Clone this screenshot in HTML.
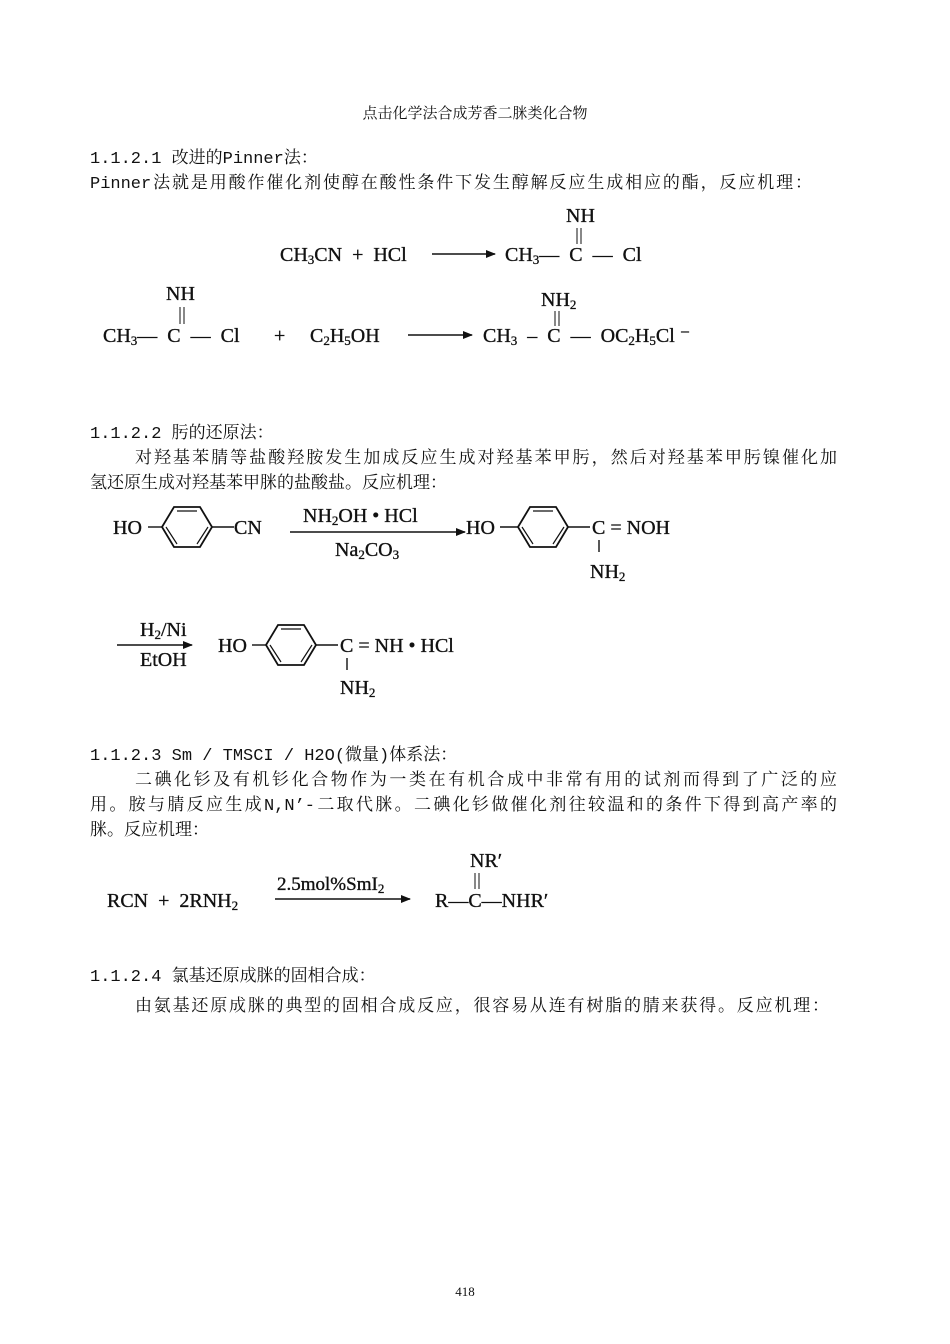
<!DOCTYPE html>
<html><head><meta charset="utf-8"><style>
body{margin:0;background:#fff;}
#p{position:relative;width:950px;height:1344px;overflow:hidden;font-family:"Liberation Mono","Noto Serif CJK SC",serif;font-size:17px;color:#111;}
.l{position:absolute;left:90px;white-space:nowrap;line-height:20px;}
.j{width:745px;text-align:justify;text-align-last:justify;}
svg{position:absolute;left:0;top:0;}
svg text{font-family:"Liberation Serif",serif;fill:#111;white-space:pre;stroke:#111;stroke-width:0.35;}
</style></head><body><div id="p">
<div class="l" style="left:0;width:950px;text-align:center;top:105px;font-size:15px">点击化学法合成芳香二脒类化合物</div>
<div class="l" style="top:150px">1.1.2.1 改进的Pinner法：</div>
<div class="l j" style="top:175px;width:722px">Pinner法就是用酸作催化剂使醇在酸性条件下发生醇解反应生成相应的酯，反应机理：</div>
<div class="l" style="top:425px">1.1.2.2 肟的还原法：</div>
<div class="l j" style="top:450px;left:135px;width:702px">对羟基苯腈等盐酸羟胺发生加成反应生成对羟基苯甲肟，然后对羟基苯甲肟镍催化加</div>
<div class="l" style="top:475px">氢还原生成对羟基苯甲脒的盐酸盐。反应机理：</div>
<div class="l" style="top:747px">1.1.2.3 Sm / TMSCI / H2O(微量)体系法：</div>
<div class="l j" style="top:772px;left:135px;width:702px">二碘化钐及有机钐化合物作为一类在有机合成中非常有用的试剂而得到了广泛的应</div>
<div class="l j" style="top:797px;width:747px">用。胺与腈反应生成N,N’-二取代脒。二碘化钐做催化剂往较温和的条件下得到高产率的</div>
<div class="l" style="top:822px">脒。反应机理：</div>
<div class="l" style="top:968px">1.1.2.4 氯基还原成脒的固相合成：</div>
<div class="l j" style="top:998px;left:135px;width:694px">由氨基还原成脒的典型的固相合成反应，很容易从连有树脂的腈来获得。反应机理：</div>
<div class="l" style="left:0;width:930px;text-align:center;top:1282px;font-size:13px;font-family:'Liberation Serif',serif">418</div>
<svg width="950" height="1344" viewBox="0 0 950 1344">
<defs><marker id="a" markerWidth="10" markerHeight="8" refX="9" refY="4" orient="auto" markerUnits="userSpaceOnUse"><path d="M0,0L10,4L0,8z" fill="#111"/></marker></defs>
<g font-size="20">
<!-- R1 -->
<text x="280" y="261">CH<tspan font-size="13" dy="3">3</tspan><tspan dy="-3">CN  +  HCl</tspan></text>
<line x1="432" y1="254" x2="495" y2="254" stroke="#111" stroke-width="1.6" marker-end="url(#a)"/>
<text x="505" y="261">CH<tspan font-size="13" dy="3">3</tspan><tspan dy="-3">—  C  —  Cl</tspan></text>
<text x="566" y="222">NH</text>
<line x1="577" y1="228" x2="577" y2="244" stroke="#111"/><line x1="581" y1="228" x2="581" y2="244" stroke="#111"/>
<!-- R2 -->
<text x="103" y="342">CH<tspan font-size="13" dy="3">3</tspan><tspan dy="-3">—  C  —  Cl</tspan></text>
<text x="166" y="300">NH</text>
<line x1="180" y1="307" x2="180" y2="324" stroke="#111"/><line x1="184" y1="307" x2="184" y2="324" stroke="#111"/>
<text x="274" y="342">+</text>
<text x="310" y="342">C<tspan font-size="13" dy="3">2</tspan><tspan dy="-3">H</tspan><tspan font-size="13" dy="3">5</tspan><tspan dy="-3">OH</tspan></text>
<line x1="408" y1="335" x2="472" y2="335" stroke="#111" stroke-width="1.6" marker-end="url(#a)"/>
<text x="483" y="342">CH<tspan font-size="13" dy="3">3</tspan><tspan dy="-3">  –  C  —  OC</tspan><tspan font-size="13" dy="3">2</tspan><tspan dy="-3">H</tspan><tspan font-size="13" dy="3">5</tspan><tspan dy="-3">Cl ⁻</tspan></text>
<text x="541" y="306">NH<tspan font-size="13" dy="3">2</tspan></text>
<line x1="555" y1="311" x2="555" y2="326" stroke="#111"/><line x1="559" y1="311" x2="559" y2="326" stroke="#111"/>
<!-- R3 -->
<text x="113" y="534">HO</text>
<line x1="148" y1="527" x2="162" y2="527" stroke="#111" stroke-width="1.4"/>
<polygon points="162,527 174,507 200,507 212,527 200,547 174,547" fill="none" stroke="#111" stroke-width="1.8"/>
<path d="M177,511H197M166,527L177,544M208,527L197,544" stroke="#111" stroke-width="1.2" fill="none"/>
<line x1="212" y1="527" x2="234" y2="527" stroke="#111" stroke-width="1.4"/>
<text x="234" y="534">CN</text>
<line x1="290" y1="532" x2="465" y2="532" stroke="#111" stroke-width="1.6" marker-end="url(#a)"/>
<text x="303" y="522">NH<tspan font-size="13" dy="3">2</tspan><tspan dy="-3">OH • HCl</tspan></text>
<text x="335" y="556">Na<tspan font-size="13" dy="3">2</tspan><tspan dy="-3">CO</tspan><tspan font-size="13" dy="3">3</tspan></text>
<text x="466" y="534">HO</text>
<line x1="500" y1="527" x2="518" y2="527" stroke="#111" stroke-width="1.4"/>
<polygon points="518,527 530,507 556,507 568,527 556,547 530,547" fill="none" stroke="#111" stroke-width="1.8"/>
<path d="M533,511H553M522,527L533,544M564,527L553,544" stroke="#111" stroke-width="1.2" fill="none"/>
<line x1="568" y1="527" x2="590" y2="527" stroke="#111" stroke-width="1.4"/>
<text x="592" y="534">C = NOH</text>
<line x1="599" y1="540" x2="599" y2="552" stroke="#111" stroke-width="1.4"/>
<text x="590" y="578">NH<tspan font-size="13" dy="3">2</tspan></text>
<!-- R4 -->
<line x1="117" y1="645" x2="192" y2="645" stroke="#111" stroke-width="1.6" marker-end="url(#a)"/>
<text x="140" y="636">H<tspan font-size="13" dy="3">2</tspan><tspan dy="-3">/Ni</tspan></text>
<text x="140" y="666">EtOH</text>
<text x="218" y="652">HO</text>
<line x1="252" y1="645" x2="266" y2="645" stroke="#111" stroke-width="1.4"/>
<polygon points="266,645 278,625 304,625 316,645 304,665 278,665" fill="none" stroke="#111" stroke-width="1.8"/>
<path d="M281,629H301M270,645L281,662M312,645L301,662" stroke="#111" stroke-width="1.2" fill="none"/>
<line x1="316" y1="645" x2="338" y2="645" stroke="#111" stroke-width="1.4"/>
<text x="340" y="652">C = NH • HCl</text>
<line x1="347" y1="658" x2="347" y2="670" stroke="#111" stroke-width="1.4"/>
<text x="340" y="694">NH<tspan font-size="13" dy="3">2</tspan></text>
<!-- R5 -->
<text x="107" y="907">RCN  +  2RNH<tspan font-size="13" dy="3">2</tspan></text>
<line x1="275" y1="899" x2="410" y2="899" stroke="#111" stroke-width="1.6" marker-end="url(#a)"/>
<text x="277" y="890" font-size="19">2.5mol%SmI<tspan font-size="13" dy="3">2</tspan></text>
<text x="435" y="907">R—C—NHR′</text>
<text x="470" y="867">NR′</text>
<line x1="475" y1="873" x2="475" y2="889" stroke="#111"/><line x1="479" y1="873" x2="479" y2="889" stroke="#111"/>
</g>
</svg>
</div></body></html>
